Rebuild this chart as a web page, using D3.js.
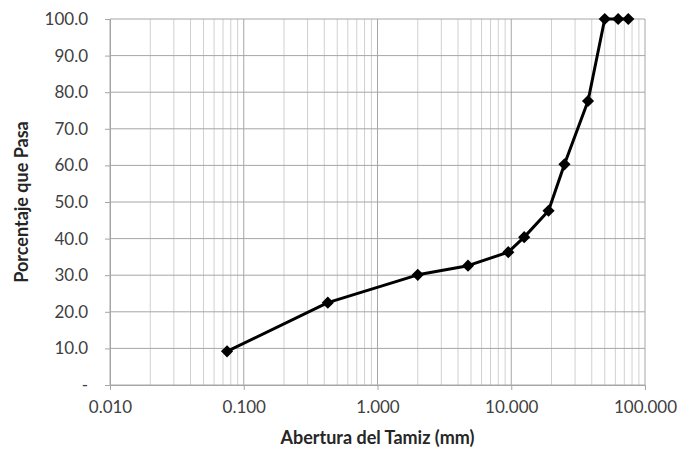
<!DOCTYPE html>
<html>
<head>
<meta charset="utf-8">
<script src="https://cdn.jsdelivr.net/npm/d3@7"></script>
<style>
  body { margin: 0; background: #fff; }
  text { font-family: Lato, "Liberation Sans", sans-serif; fill: #404040; }
</style>
</head>
<body>
<div id="chart"></div>
<script>
// sieve openings (mm) and percent passing
const aberturas = [75, 63, 50, 37.5, 25, 19, 12.5, 9.5, 4.75, 2.0, 0.425, 0.075];
const pasa = [100, 100, 100, 77.6, 60.3, 47.6, 40.4, 36.3, 32.6, 30.1, 22.5, 9.2];
const xTicks = [0.01, 0.1, 1, 10, 100];
const yTicks = [0, 10, 20, 30, 40, 50, 60, 70, 80, 90, 100];
const xTitle = "Abertura del Tamiz (mm)";
const yTitle = "Porcentaje que Pasa";

const width = 677, height = 452;
const margin = { top: 19, right: 32, bottom: 67, left: 110 };

const svg = d3.select("#chart").append("svg")
  .attr("width", width)
  .attr("height", height);

const x = d3.scaleLog()
  .domain([0.01, 100])
  .range([margin.left, width - margin.right]);

const y = d3.scaleLinear()
  .domain([0, 100])
  .range([height - margin.bottom, margin.top]);

// minor vertical grid (2..9 of each decade)
const minor = [];
for (let e = -2; e < 2; e++) {
  for (let k = 2; k <= 9; k++) minor.push(k * Math.pow(10, e));
}
svg.append("g").selectAll("line")
  .data(minor)
  .join("line")
  .attr("x1", d => x(d)).attr("x2", d => x(d))
  .attr("y1", y(0)).attr("y2", y(100))
  .style("stroke", "#d0d0d0")
  .style("stroke-width", 1);

// major vertical grid
svg.append("g").selectAll("line")
  .data(xTicks)
  .join("line")
  .attr("x1", d => x(d)).attr("x2", d => x(d))
  .attr("y1", y(0)).attr("y2", y(100))
  .style("stroke", "#a6a6a6")
  .style("stroke-width", 1);

// horizontal grid
svg.append("g").selectAll("line")
  .data(yTicks)
  .join("line")
  .attr("x1", x(0.01)).attr("x2", x(100))
  .attr("y1", d => y(d)).attr("y2", d => y(d))
  .style("stroke", "#a6a6a6")
  .style("stroke-width", 1);

// axes
const yAxis = d3.axisLeft(y)
  .tickValues(yTicks)
  .tickSize(5)
  .tickPadding(17)
  .tickFormat(d => d === 0 ? "-" : d3.format(".1f")(d));

const gy = svg.append("g")
  .attr("transform", `translate(${margin.left},0)`)
  .call(yAxis);

const xAxis = d3.axisBottom(x)
  .tickValues(xTicks)
  .tickSize(5)
  .tickPadding(11)
  .tickFormat(d3.format(".3f"));

const gx = svg.append("g")
  .attr("transform", `translate(0,${height - margin.bottom})`)
  .call(xAxis);

[gx, gy].forEach(g => {
  g.select(".domain").style("stroke", "#a6a6a6");
  g.selectAll(".tick line").style("stroke", "#a6a6a6");
  g.selectAll(".tick text")
    .style("font-family", "Lato, 'Liberation Sans', sans-serif")
    .style("font-size", "17px")
    .style("fill", "#404040");
});

// axis titles
svg.append("text")
  .attr("x", (x(0.01) + x(100)) / 2)
  .attr("y", 444)
  .attr("text-anchor", "middle")
  .style("font-size", "18px")
  .style("font-weight", "bold")
  .style("fill", "#262626")
  .text(xTitle);

svg.append("text")
  .attr("transform", `translate(28,${(y(0) + y(100)) / 2}) rotate(-90)`)
  .attr("text-anchor", "middle")
  .style("font-size", "18px")
  .style("font-weight", "bold")
  .style("fill", "#262626")
  .text(yTitle);

// data line
const pts = aberturas.map((a, i) => ({ a, p: pasa[i] }));

const line = d3.line()
  .x(d => x(d.a))
  .y(d => y(d.p));

svg.append("path")
  .datum(pts)
  .attr("d", line)
  .style("fill", "none")
  .style("stroke", "#000")
  .style("stroke-width", 3)
  .style("stroke-linejoin", "round");

svg.append("g").selectAll("path")
  .data(pts)
  .join("path")
  .attr("transform", d => `translate(${x(d.a)},${y(d.p)}) rotate(45)`)
  .attr("d", "M-4.3,-4.3H4.3V4.3H-4.3Z")
  .style("fill", "#000");
</script>
</body>
</html>
